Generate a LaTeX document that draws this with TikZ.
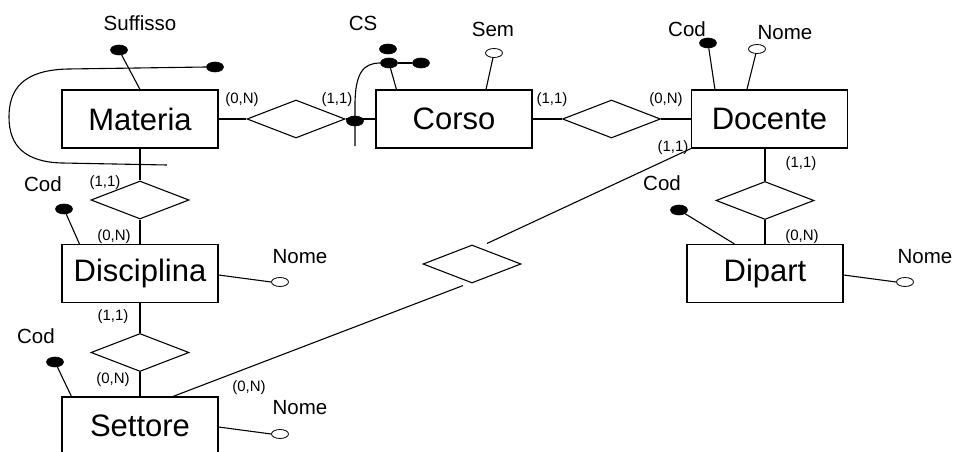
\documentclass[tikz,border=0pt]{standalone}
\usepackage{fontspec}
\setmainfont{Liberation Sans}
\usetikzlibrary{shapes.geometric,calc}
\begin{document}
\begin{tikzpicture}[x=1pt,y=-1pt,line width=1.1pt,
  ent/.style={draw, rectangle, minimum width=156pt, minimum height=58pt, inner sep=0pt, font=\fontsize{31}{36}\selectfont},
  rel/.style={draw, diamond, minimum width=98pt, minimum height=38pt, inner sep=0pt},
  bdot/.style={ellipse, fill=black, draw=black, line width=0.6pt, minimum width=17pt, minimum height=10pt, inner sep=0pt},
  wdot/.style={ellipse, draw=black, fill=white, line width=0.8pt, minimum width=17pt, minimum height=9pt, inner sep=0pt},
  card/.style={font=\fontsize{15}{15}\selectfont, inner sep=0pt},
  attr/.style={font=\fontsize{20.5}{20.5}\selectfont, inner sep=0pt}]
\useasboundingbox (0,0) rectangle (954,452);
\clip (0,0) rectangle (954,452);

% entities
\node[ent] (materia) at (140,119) {Materia};
\node[ent] (corso) at (454,119) {Corso};
\node[ent] (docente) at (769.5,119) {Docente};
\node[ent] (disciplina) at (140,273.5) {Disciplina};
\node[ent] (settore) at (140,426) {Settore};
\node[ent] (dipart) at (765,273.5) {Dipart};

% relationships
\node[rel] (r1) at (296,119) {};
\node[rel] (r2) at (611.5,119) {};
\node[rel] (r3) at (140,200) {};
\node[rel] (r4) at (140,352.5) {};
\node[rel] (r5) at (765,200.5) {};
\node[rel] (r6) at (472,264) {};

% connectors
\draw (materia.east) -- (r1.west);
\draw (r1.east) -- (corso.west);
\draw (corso.east) -- (r2.west);
\draw (r2.east) -- (docente.west);
\draw (materia.south) -- (r3.north);
\draw (r3.south) -- (disciplina.north);
\draw (disciplina.south) -- (r4.north);
\draw (r4.south) -- (settore.north);
\draw (r5.north |- docente.south) -- (r5.north);
\draw (r5.south) -- (dipart.north);
\draw ($(settore.north)+(33,0)$) -- ($(r6.south)+(-9,2)$);
\draw ($(r6.north)+(15,-1)$) -- (docente.south west);

% Materia attributes and loop
\node[bdot] (suffd) at (119,50) {};
\draw (suffd) -- (materia.north);
\node[attr] (sufft) at (140,23) {Suffisso};
\node[bdot] (loopd) at (215,67) {};
\coordinate (loopend) at (167,165);
\draw (loopd.west) -- (68,69) .. controls (22,70) and (9,90) .. (9,117)
      .. controls (9,146) and (25,162) .. (62,163) -- (loopend);

% CS identifier of Corso
\node[bdot] (csd) at (389,63) {};
\node[bdot] (cst) at (388,49) {};
\node[bdot] (csr) at (421,63) {};
\node[bdot] (csj) at (355,121) {};
\coordinate (csstart) at (355,146);
\draw (csd) -- (csr);
\draw (csd) -- ($(corso.north west)+(21,0)$);
\draw (csstart) -- (355,105) .. controls (355,72) and (364,63) .. (csd.west);
\node[attr] (cstxt) at (363,23) {CS};

% Sem
\node[wdot] (semd) at (494,53) {};
\draw (semd) -- ($(corso.north)+(32,0)$);
\node[attr] (semt) at (493,29) {Sem};

% Docente attributes
\node[bdot] (dcodd) at (708,43) {};
\draw (dcodd) -- ($(docente.north west)+(24,0)$);
\node[attr] (dcodt) at (687,29) {Cod};
\node[wdot] (dnomed) at (757,49) {};
\draw (dnomed) -- ($(docente.north west)+(56,0)$);
\node[attr] (dnomet) at (785,33) {Nome};

% Disciplina attributes
\node[bdot] (discodd) at (64,209) {};
\draw (discodd) -- ($(disciplina.north west)+(18,0)$);
\node[attr] (discodt) at (43,184) {Cod};
\node[wdot] (disnomed) at (280,282) {};
\draw ($(disciplina.east)+(0,1.5)$) -- (disnomed.west);
\node[attr] (disnomet) at (300,257) {Nome};

% Settore attributes
\node[bdot] (setcodd) at (55,362) {};
\draw (setcodd) -- ($(settore.north west)+(10,0)$);
\node[attr] (setcodt) at (36,336) {Cod};
\node[wdot] (setnomed) at (280,434) {};
\draw ($(settore.east)+(0,1)$) -- (setnomed.west);
\node[attr] (setnomet) at (300,408) {Nome};

% Dipart attributes
\node[bdot] (dipcodd) at (679,210) {};
\draw (dipcodd) -- ($(dipart.north west)+(48,0)$);
\node[attr] (dipcodt) at (662,183) {Cod};
\node[wdot] (dipnomed) at (905,282) {};
\draw ($(dipart.east)+(0,1.5)$) -- (dipnomed.west);
\node[attr] (dipnomet) at (925,257) {Nome};

% cardinalities
\node[card] at (242,100) {(0,N)};
\node[card] at (337,100) {(1,1)};
\node[card] at (552,100) {(1,1)};
\node[card] at (666,100) {(0,N)};
\node[card] at (105,183) {(1,1)};
\node[card] at (114,237) {(0,N)};
\node[card] at (113,317) {(1,1)};
\node[card] at (113,380) {(0,N)};
\node[card] at (249,388) {(0,N)};
\node[card] at (673,148) {(1,1)};
\node[card] at (801,164) {(1,1)};
\node[card] at (802,237) {(0,N)};
\end{tikzpicture}
\end{document}
